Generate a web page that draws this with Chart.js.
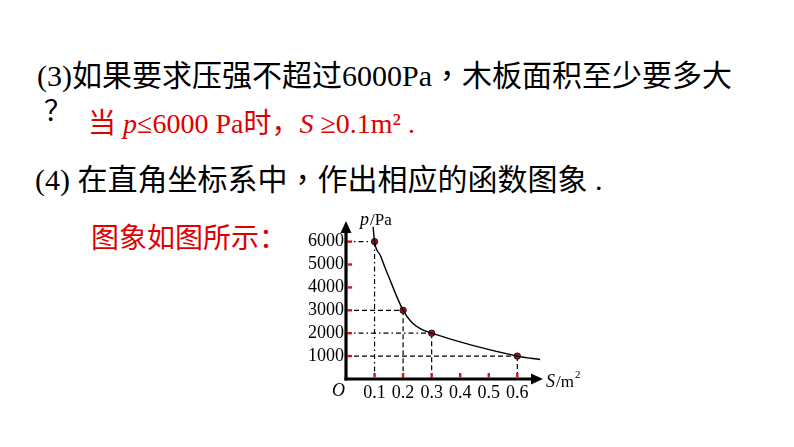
<!DOCTYPE html>
<html>
<head>
<meta charset="utf-8">
<script src="https://cdn.jsdelivr.net/npm/chart.js@4.4.1/dist/chart.umd.min.js"></script>
<style>
  html,body{margin:0;padding:0;background:#fff;}
  body{width:794px;height:447px;position:relative;overflow:hidden;}
  .t{position:absolute;white-space:pre;font-family:"Liberation Serif",serif;color:#000;}
  .c{font-family:"Noto Sans CJK SC",sans-serif;}
  .p{font-family:"Noto Sans CJK TC",sans-serif;}
  .l{font-family:"Liberation Serif",serif;}
  .red{color:rgb(222,0,0);}
  #c{position:absolute;left:0;top:0;}
</style>
</head>
<body>
<div class="t" style="left:37px;top:58px;font-size:30px;line-height:30px;"><span class="l">(3)</span><span class="c">如果要求压强不超过</span><span class="l">6000Pa</span><span class="p">，</span><span class="c">木板面积至少要多大</span></div>
<div class="t c" style="left:44px;top:95px;font-size:28px;line-height:28px;">？</div>
<div class="t red" style="left:88px;top:107px;font-size:28px;line-height:28px;"><span class="c">当</span><span class="l"> <i>p</i>≤6000 Pa</span><span class="c">时，</span><span class="l"><i>S</i> ≥0.1m² .</span></div>
<div class="t" style="left:35px;top:162px;font-size:30px;line-height:30px;"><span class="l">(4) </span><span class="c">在直角坐标系中</span><span class="p">，</span><span class="c">作出相应的函数图象</span><span class="l"> .</span></div>
<div class="t red c" style="left:91px;top:222px;font-size:28px;line-height:28px;">图象如图所示：</div>
<canvas id="c" width="794" height="447"></canvas>
<script>
// ---- data ----
const xTicks = [0.1, 0.2, 0.3, 0.4, 0.5, 0.6];
const yTicks = [1000, 2000, 3000, 4000, 5000, 6000];
const markS = [0.1, 0.2, 0.3, 0.6];
const markP = [6000, 3000, 2000, 1000];
// curve as drawn in the picture (incl. its two ends)
const curveS = [0.095, 0.1, 0.12, 0.15, 0.2, 0.23, 0.26, 0.3, 0.6, 0.68];
const curveP = [6650, 6000, 5400, 4450, 3000, 2480, 2200, 2000, 1000, 850];
const xMax = 0.69, yMax = 6900;

// ---- styles ----
const DASH = [5, 3], DASHDOT = [5, 3, 1.5, 3];
const guideStyles = [
  {h: DASHDOT, v: DASHDOT},
  {h: DASH, v: DASH},
  {h: DASHDOT, v: DASH},
  {h: DASH, v: DASH}
];
const serif = '"Liberation Serif", "Times New Roman", serif';

const guides = {
  id: 'guides',
  beforeDatasetsDraw(chart) {
    const {ctx, scales: {x, y}} = chart;
    const x0 = x.getPixelForValue(0), y0 = y.getPixelForValue(0);
    ctx.save();
    ctx.strokeStyle = '#000';
    ctx.lineWidth = 1.2;
    markS.forEach((s, i) => {
      const px = x.getPixelForValue(s), py = y.getPixelForValue(markP[i]);
      ctx.setLineDash(guideStyles[i].h);
      ctx.beginPath(); ctx.moveTo(x0, py); ctx.lineTo(px, py); ctx.stroke();
      ctx.setLineDash(guideStyles[i].v);
      ctx.beginPath(); ctx.moveTo(px, py); ctx.lineTo(px, y0); ctx.stroke();
    });
    ctx.restore();
  }
};

const axes = {
  id: 'axesArrows',
  afterDatasetsDraw(chart) {
    const {ctx, chartArea: a, scales: {x, y}} = chart;
    const x0 = x.getPixelForValue(0), y0 = y.getPixelForValue(0);
    ctx.save();
    ctx.strokeStyle = '#000'; ctx.fillStyle = '#000';
    ctx.lineWidth = 3.2;
    ctx.setLineDash([]);
    ctx.beginPath(); ctx.moveTo(x0, y0 + 1.5); ctx.lineTo(x0, a.top + 8); ctx.stroke();
    ctx.beginPath(); ctx.moveTo(x0 - 1.5, y0); ctx.lineTo(a.right - 8, y0); ctx.stroke();
    ctx.beginPath(); ctx.moveTo(x0, a.top); ctx.lineTo(x0 - 5.5, a.top + 12); ctx.lineTo(x0 + 5.5, a.top + 12); ctx.closePath(); ctx.fill();
    ctx.beginPath(); ctx.moveTo(a.right, y0); ctx.lineTo(a.right - 12, y0 - 5.5); ctx.lineTo(a.right - 12, y0 + 5.5); ctx.closePath(); ctx.fill();
    // red tick marks
    ctx.fillStyle = 'rgb(215,20,30)';
    yTicks.forEach(v => { const py = y.getPixelForValue(v); ctx.fillRect(x0 + 1.6, py - 1.2, 4.5, 2.4); });
    xTicks.forEach(v => { const px = x.getPixelForValue(v); ctx.fillRect(px - 1.2, y0 - 6, 2.4, 4.4); });
    // axis titles
    ctx.fillStyle = '#000';
    ctx.textBaseline = 'alphabetic';
    ctx.font = 'italic 18px ' + serif;
    ctx.fillText('p', x0 + 14, a.top + 4);
    let w = ctx.measureText('p').width;
    ctx.font = '17px ' + serif;
    ctx.fillText('/Pa', x0 + 15 + w, a.top + 4);
    ctx.font = 'italic 18px ' + serif;
    ctx.fillText('S', a.right + 3, y0 + 8);
    w = ctx.measureText('S').width;
    ctx.font = '17px ' + serif;
    ctx.fillText('/m', a.right + 4 + w, y0 + 8);
    const w2 = ctx.measureText('/m').width;
    ctx.font = '11px ' + serif;
    ctx.fillText('2', a.right + 4 + w + w2 + 1, y0 - 1);
    ctx.font = 'italic 18px ' + serif;
    ctx.fillText('O', x0 - 14, y0 + 17);
    ctx.restore();
  }
};

new Chart(document.getElementById('c'), {
  type: 'scatter',
  data: {
    datasets: [
      {
        data: curveS.map((s, i) => ({x: s, y: curveP[i]})),
        showLine: true,
        cubicInterpolationMode: 'monotone',
        borderColor: '#000',
        borderWidth: 1.4,
        pointRadius: 0,
        fill: false
      },
      {
        data: markS.map((s, i) => ({x: s, y: markP[i]})),
        showLine: false,
        pointRadius: 3.2,
        backgroundColor: 'rgb(150,25,40)',
        borderColor: 'rgb(60,10,15)',
        borderWidth: 1
      }
    ]
  },
  options: {
    responsive: false,
    animation: false,
    devicePixelRatio: 1,
    layout: {autoPadding: false, padding: {left: 296, top: 221, right: 251, bottom: 38}},
    plugins: {legend: {display: false}, tooltip: {enabled: false}},
    scales: {
      x: {
        type: 'linear', min: 0, max: xMax,
        grid: {display: false, drawTicks: false},
        border: {display: false},
        afterBuildTicks: s => { s.ticks = xTicks.map(v => ({value: v})); },
        afterFit: s => { s.height = 30; },
        ticks: {color: '#000', padding: 3, font: {family: serif, size: 18}, callback: v => v.toFixed(1), maxRotation: 0, autoSkip: false}
      },
      y: {
        type: 'linear', min: 0, max: yMax,
        grid: {display: false, drawTicks: false},
        border: {display: false},
        afterBuildTicks: s => { s.ticks = yTicks.map(v => ({value: v})); },
        afterFit: s => { s.width = 50; },
        ticks: {color: '#000', padding: 2, font: {family: serif, size: 18}, callback: v => String(v), autoSkip: false}
      }
    }
  },
  plugins: [guides, axes]
});
</script>
</body>
</html>
